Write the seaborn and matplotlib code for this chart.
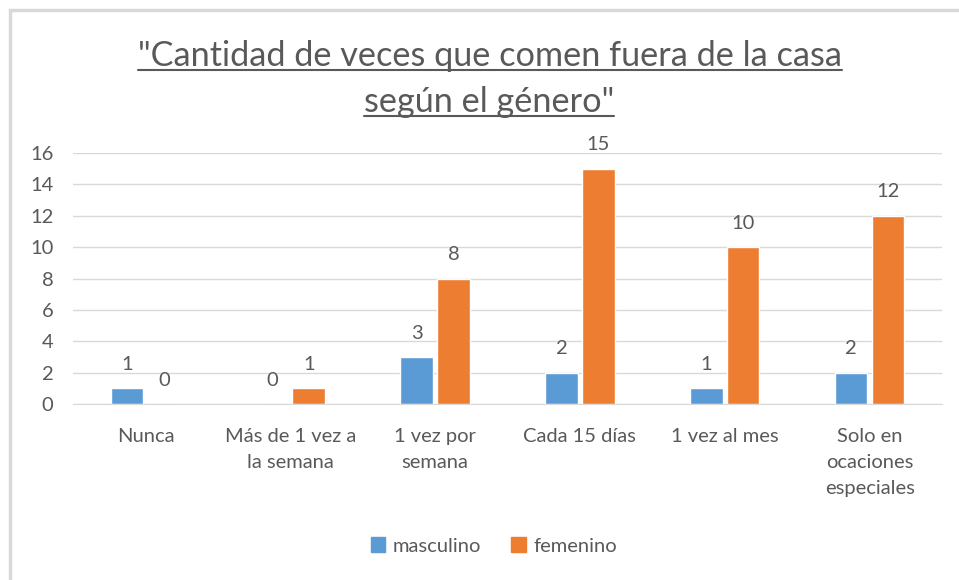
import pandas as pd
import matplotlib.pyplot as plt
import seaborn as sns
from matplotlib.lines import Line2D
from matplotlib.patches import Rectangle

# Data
categorias = ["Nunca", "Más de 1 vez a\nla semana", "1 vez por\nsemana",
              "Cada 15 días", "1 vez al mes", "Solo en\nocaciones\nespeciales"]
masculino = [1, 0, 3, 2, 1, 2]
femenino = [0, 1, 8, 15, 10, 12]
series = ["masculino", "femenino"]
y_ticks = [0, 2, 4, 6, 8, 10, 12, 14, 16]

GRAY = "#595959"
COLORS = ["#5B9BD5", "#ED7D31"]

df = pd.DataFrame({
    "categoria": categorias * 2,
    "valor": masculino + femenino,
    "genero": [series[0]] * len(categorias) + [series[1]] * len(categorias),
})

sns.set_style("white")
plt.rcParams["font.family"] = ["Lato", "DejaVu Sans"]

W, H = 959, 580
fig = plt.figure(figsize=(W / 100, H / 100), dpi=100)
ax = fig.add_axes([73 / W, 1 - 404 / H, (942 - 73) / W, (404 - 153) / H])

sns.barplot(data=df, x="categoria", y="valor", hue="genero", order=categorias,
            hue_order=series, palette=COLORS, width=0.51, gap=0.12,
            saturation=1, ax=ax, legend=False)

for cont in ax.containers:
    ax.bar_label(cont, fmt="%d", padding=11, fontsize=14.5, color=GRAY)

ax.set_ylim(0, 16)
ax.set_yticks(y_ticks)
ax.set_xlim(-0.5, len(categorias) - 0.5)
ax.yaxis.grid(True, color="#d9d9d9", linewidth=1)
ax.set_axisbelow(True)
for s in ["top", "right", "left"]:
    ax.spines[s].set_visible(False)
ax.spines["bottom"].set_color("#d9d9d9")
ax.tick_params(axis="y", length=0, pad=14, labelsize=14.5, labelcolor=GRAY)
ax.tick_params(axis="x", length=0, pad=17, labelsize=14.5, labelcolor=GRAY)
for lbl in ax.get_xticklabels():
    lbl.set_linespacing(1.65)
ax.set_xlabel("")
ax.set_ylabel("")

# chart frame (top and left edges visible)
fig.patches.append(Rectangle((10 / W, -0.1), 1.2, 1 - 10 / H + 0.1,
                             transform=fig.transFigure, fill=False,
                             edgecolor="#d9d9d9", linewidth=2.5))

# title, two lines, underlined
t1 = fig.text(490 / W, 1 - 66 / H, "\"Cantidad de veces que comen fuera de la casa",
              ha="center", va="baseline", fontsize=24.7, color=GRAY)
t2 = fig.text(489 / W, 1 - 112 / H, "según el género\"",
              ha="center", va="baseline", fontsize=24.7, color=GRAY)
fig.canvas.draw()
r = fig.canvas.get_renderer()
for t, yb in [(t1, 66), (t2, 112)]:
    bb = t.get_window_extent(r)
    fig.add_artist(Line2D([bb.x0 / W, bb.x1 / W], [1 - (yb + 4) / H] * 2,
                          transform=fig.transFigure, color=GRAY, linewidth=1.5))

handles = [Rectangle((0, 0), 1, 1, color=c) for c in COLORS]
fig.legend(handles, series, loc="center", bbox_to_anchor=(494 / W, 1 - 546 / H),
           ncol=2, frameon=False, fontsize=14.5, labelcolor=GRAY,
           handlelength=0.7, handleheight=0.7, handletextpad=0.4,
           columnspacing=1.5)

fig.savefig("out.png", dpi=100, facecolor="white")
